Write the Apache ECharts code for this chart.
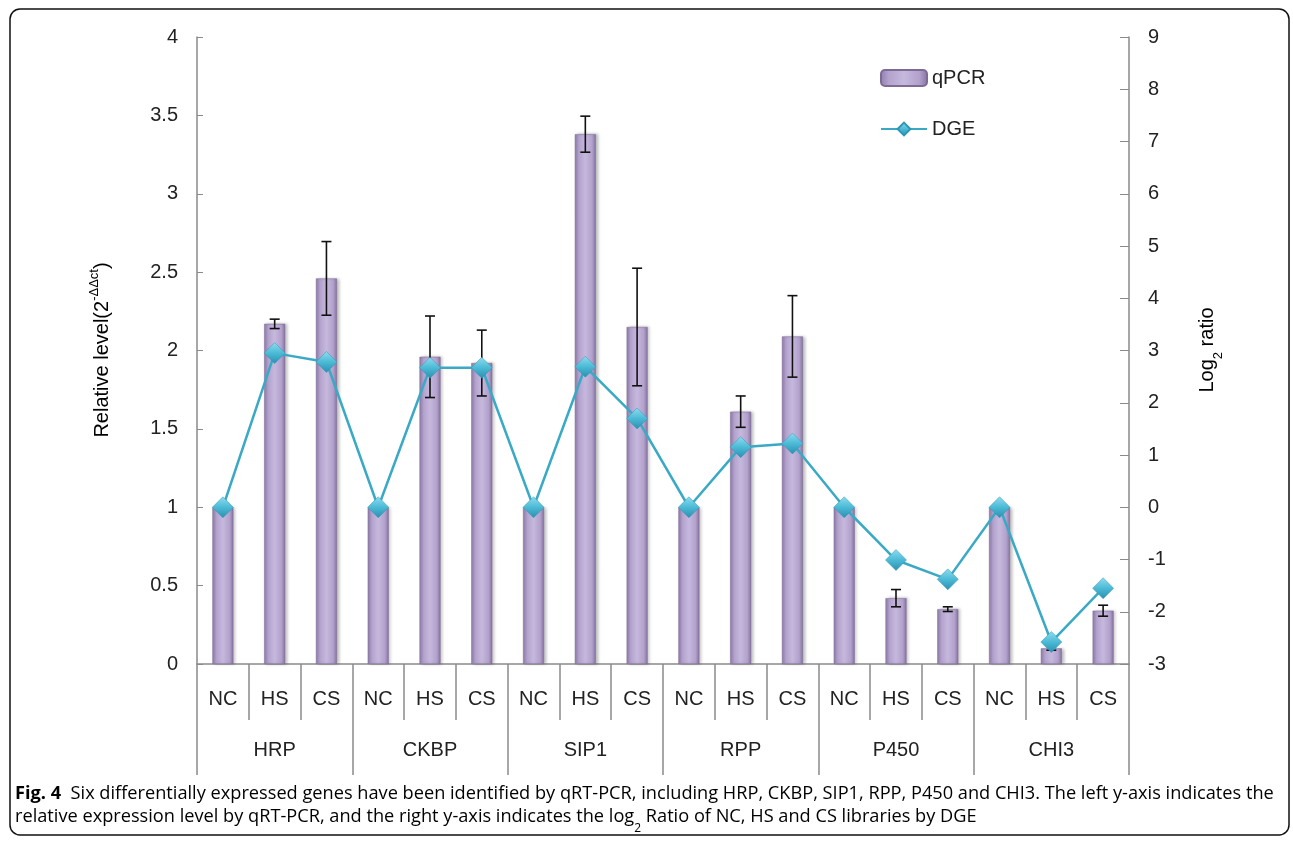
<!DOCTYPE html>
<html>
<head>
<meta charset="utf-8">
<script src="https://cdn.jsdelivr.net/npm/echarts@6/dist/echarts.min.js"></script>
<style>
  html, body { margin: 0; padding: 0; background: #fff; }
  #chart { width: 1293px; height: 841px; }
</style>
</head>
<body>
<div id="chart"></div>
<script>
const sampleLabels = ['NC', 'HS', 'CS', 'NC', 'HS', 'CS', 'NC', 'HS', 'CS',
  'NC', 'HS', 'CS', 'NC', 'HS', 'CS', 'NC', 'HS', 'CS'];
const geneLabels = ['HRP', 'CKBP', 'SIP1', 'RPP', 'P450', 'CHI3'];
const qpcrValues = [1.0, 2.17, 2.46, 1.0, 1.96, 1.92, 1.0, 3.38, 2.15,
  1.0, 1.61, 2.09, 1.0, 0.42, 0.35, 1.0, 0.10, 0.34];
const qpcrErrors = [0, 0.03, 0.235, 0, 0.26, 0.21, 0, 0.115, 0.375,
  0, 0.10, 0.26, 0, 0.055, 0.015, 0, 0.012, 0.035];
const dgeValues = [0, 2.95, 2.78, 0, 2.67, 2.67, 0, 2.69, 1.70,
  0, 1.15, 1.22, 0, -1.01, -1.38, 0, -2.58, -1.55];
const leftTicks = { min: 0, max: 4, interval: 0.5 };
const rightTicks = { min: -3, max: 9, interval: 1 };

const font = 'Liberation Sans, Arial, sans-serif';
const captionFont = 'Open Sans';
const tickText = { color: '#222', fontFamily: font, fontSize: 20 };

// error bar rows: [index, low, high]
const errorData = qpcrValues
  .map((v, i) => [i, v - qpcrErrors[i], v + qpcrErrors[i], qpcrErrors[i]])
  .filter((d) => d[3] > 0);

const barColor = new echarts.graphic.LinearGradient(0, 0, 1, 0, [
  { offset: 0, color: '#8f7cab' },
  { offset: 0.18, color: '#b3a2cd' },
  { offset: 0.5, color: '#c6b8dd' },
  { offset: 0.82, color: '#b2a1cc' },
  { offset: 1, color: '#85729f' }
]);
const diamondColor = new echarts.graphic.LinearGradient(0, 0, 0, 1, [
  { offset: 0, color: '#8fdcef' },
  { offset: 0.5, color: '#4cbad6' },
  { offset: 1, color: '#2a8fae' }
]);
const axisGray = '#8a8a8a';

const chart = echarts.init(document.getElementById('chart'), null, { renderer: 'canvas' });

const option = {
  backgroundColor: '#fff',
  animation: false,
  grid: { left: 197, right: 164, top: 37, bottom: 177 },
  legend: {
    orient: 'vertical',
    left: 875,
    top: 63,
    itemGap: 31,
    itemWidth: 46,
    itemHeight: 16,
    data: ['qPCR', 'DGE'],
    textStyle: { color: '#222', fontFamily: font, fontSize: 20 }
  },
  xAxis: [
    {
      type: 'category',
      data: sampleLabels,
      position: 'bottom',
      axisLine: { onZero: false, lineStyle: { color: axisGray, width: 1.5 } },
      axisTick: { show: true, length: 56, lineStyle: { color: axisGray, width: 1.5 } },
      axisLabel: { ...tickText, margin: 25, interval: 0 }
    },
    {
      type: 'category',
      data: geneLabels,
      position: 'bottom',
      axisLine: { show: false, onZero: false },
      axisTick: { show: true, length: 111, lineStyle: { color: axisGray, width: 1.5 } },
      axisLabel: { ...tickText, margin: 76, interval: 0 }
    }
  ],
  yAxis: [
    {
      type: 'value',
      ...leftTicks,
      position: 'left',
      splitLine: { show: false },
      axisLine: { show: true, onZero: false, lineStyle: { color: axisGray, width: 1.5 } },
      axisTick: { show: true, inside: true, length: 6, lineStyle: { color: axisGray } },
      axisLabel: { ...tickText, margin: 19 }
    },
    {
      type: 'value',
      ...rightTicks,
      position: 'right',
      splitLine: { show: false },
      axisLine: { show: true, onZero: false, lineStyle: { color: axisGray, width: 1.5 } },
      axisTick: { show: true, inside: true, length: 9, lineStyle: { color: axisGray } },
      axisLabel: { ...tickText, margin: 19 }
    }
  ],
  graphic: [
    {
      type: 'rect',
      shape: { x: 10, y: 9, width: 1279, height: 826, r: 10 },
      style: { fill: 'none', stroke: '#111', lineWidth: 1.5 },
      silent: true
    },
    {
      type: 'text',
      x: 100,
      y: 350,
      rotation: Math.PI / 2,
      style: {
        text: '{a|Relative level(2}{s|-ΔΔct}{a|)}',
        align: 'center',
        verticalAlign: 'middle',
        rich: {
          a: { fontFamily: font, fontSize: 20, color: '#222', lineHeight: 24, verticalAlign: 'bottom' },
          s: { fontFamily: font, fontSize: 13, color: '#222', lineHeight: 24, verticalAlign: 'top' }
        }
      }
    },
    {
      type: 'text',
      x: 1211,
      y: 350,
      rotation: Math.PI / 2,
      style: {
        text: '{a|Log}{s|2}{a| ratio}',
        align: 'center',
        verticalAlign: 'middle',
        rich: {
          a: { fontFamily: font, fontSize: 20, color: '#222', lineHeight: 24, verticalAlign: 'top' },
          s: { fontFamily: font, fontSize: 13, color: '#222', lineHeight: 28, verticalAlign: 'bottom' }
        }
      }
    },
    {
      type: 'text',
      left: 15,
      top: 785,
      style: {
        text: '{b|Fig. 4}{n|  Six differentially expressed genes have been identified by qRT-PCR, including HRP, CKBP, SIP1, RPP, P450 and CHI3. The left y-axis indicates the}',
        rich: {
          b: { fontFamily: captionFont, fontWeight: 'bold', fontSize: 18.2, color: '#1a1a1a' },
          n: { fontFamily: captionFont, fontSize: 18.2, color: '#1a1a1a' }
        }
      }
    },
    {
      type: 'text',
      left: 15,
      top: 808,
      style: {
        text: '{n|relative expression level by qRT-PCR, and the right y-axis indicates the log}{s|2}{n| Ratio of NC, HS and CS libraries by DGE}',
        rich: {
          n: { fontFamily: captionFont, fontSize: 18.2, color: '#1a1a1a', lineHeight: 24, verticalAlign: 'top' },
          s: { fontFamily: captionFont, fontSize: 12, color: '#1a1a1a', lineHeight: 27, verticalAlign: 'bottom' }
        }
      }
    }
  ],
  series: [
    {
      name: 'qPCR',
      type: 'bar',
      xAxisIndex: 0,
      yAxisIndex: 0,
      barWidth: 21,
      data: qpcrValues,
      itemStyle: {
        color: barColor,
        borderColor: '#7d6b96',
        borderWidth: 0.5,
        shadowColor: 'rgba(0,0,0,0.25)',
        shadowBlur: 3,
        shadowOffsetX: 2
      },
      z: 2
    },
    {
      name: 'error',
      type: 'custom',
      xAxisIndex: 0,
      yAxisIndex: 0,
      data: errorData,
      z: 3,
      renderItem: function (params, api) {
        const lo = api.coord([api.value(0), api.value(1)]);
        const hi = api.coord([api.value(0), api.value(2)]);
        const half = 5;
        const style = { stroke: '#111', lineWidth: 1.6 };
        return {
          type: 'group',
          children: [
            { type: 'line', shape: { x1: lo[0], y1: lo[1], x2: hi[0], y2: hi[1] }, style },
            { type: 'line', shape: { x1: hi[0] - half, y1: hi[1], x2: hi[0] + half, y2: hi[1] }, style },
            { type: 'line', shape: { x1: lo[0] - half, y1: lo[1], x2: lo[0] + half, y2: lo[1] }, style }
          ]
        };
      }
    },
    {
      name: 'DGE',
      type: 'line',
      xAxisIndex: 0,
      yAxisIndex: 1,
      data: dgeValues,
      symbol: 'diamond',
      symbolSize: [21, 21],
      lineStyle: { color: '#3aa9c6', width: 2.5 },
      itemStyle: { color: diamondColor, borderColor: '#2d97b4', borderWidth: 0.5 },
      z: 4
    }
  ]
};

chart.setOption(option);
</script>
</body>
</html>
